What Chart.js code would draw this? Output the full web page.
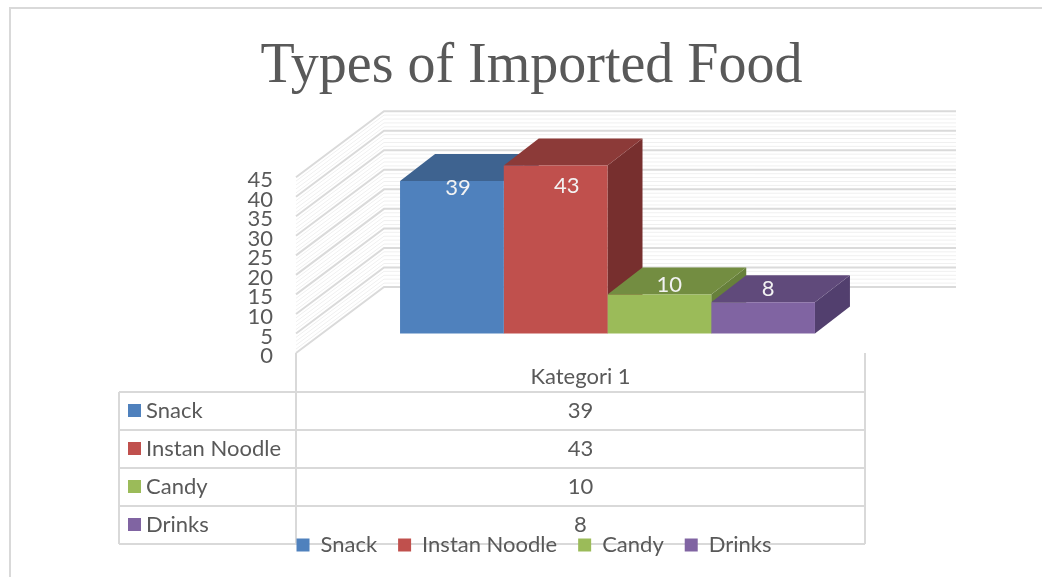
<!DOCTYPE html>
<html>
<head>
<meta charset="utf-8">
<title>Types of Imported Food</title>
<script src="https://cdn.jsdelivr.net/npm/chart.js@4"></script>
<style>
    html, body { margin: 0; padding: 0; background: #ffffff; overflow: hidden; width: 1042px; height: 577px; }
    #frame { position: absolute; left: 9px; top: 7px; width: 1040px; height: 580px; border: 2px solid #d9d9d9; box-sizing: border-box; }
    #importChart { position: absolute; left: 0; top: 0; }
</style>
</head>
<body>
<div id="frame"></div>
<canvas id="importChart" width="1068" height="577"></canvas>
<script>
// Chart data
const categories = ['Kategori 1'];
const seriesNames = ['Snack', 'Instan Noodle', 'Candy', 'Drinks'];
const snackValues = [39];
const noodleValues = [43];
const candyValues = [10];
const drinksValues = [8];

const frontColors = ['#4f81bd', '#c0504d', '#9bbb59', '#8064a2'];
const topColors = ['#3e6390', '#8c3a38', '#738d41', '#604a7b'];
const sideColors = ['#36567d', '#772f2e', '#67803b', '#523f6e'];

const textColor = '#595959';
const lineColor = '#d9d9d9';
const labelFont = '22px Lato';

// 3D look: how far the back wall and the bars recede, in pixels
const wallDepth = { x: 88, y: -66 };
const wallRight = 956;
const barDepth = { x: 35, y: -27 };
// data labels sit a bit off the bar centre, like in the original
const labelShift = [
    { x: 6, y: 7 },
    { x: 11, y: 20 },
    { x: 10, y: -9 },
    { x: 5, y: -13 }
];

// Data table under the plot
const tableLeft = 119;
const tableRight = 865;
const tableRows = [392, 430, 468, 506, 544];

function fillPoly(ctx, color, points) {
    ctx.fillStyle = color;
    ctx.beginPath();
    points.forEach(function(p, i) {
        if (i === 0) ctx.moveTo(p[0], p[1]);
        else ctx.lineTo(p[0], p[1]);
    });
    ctx.closePath();
    ctx.fill();
}

// The title sits slightly left of the canvas centre
const titleShiftPlugin = {
    id: 'titleShift',
    afterLayout: function(chart) {
        chart.titleBlock.left -= 5;
    }
};

// Side wall and back wall, drawn with the y scale
const wallPlugin = {
    id: 'wall',
    beforeDatasetsDraw: function(chart) {
        const ctx = chart.ctx;
        const yScale = chart.scales.y;
        const left = chart.chartArea.left;
        ctx.save();
        for (let v = yScale.max; v >= 0; v--) {
            const y = yScale.getPixelForValue(v);
            const major = v % 5 === 0;
            ctx.strokeStyle = major ? '#dadada' : '#f0f0f0';
            ctx.lineWidth = major ? 2 : 1;
            ctx.beginPath();
            ctx.moveTo(left, y);
            ctx.lineTo(left + wallDepth.x, y + wallDepth.y);
            ctx.lineTo(wallRight, y + wallDepth.y);
            ctx.stroke();
        }
        ctx.restore();
    }
};

// Top and right faces of the bars, the front face is the Chart.js bar
const barFacesPlugin = {
    id: 'barFaces',
    beforeDatasetsDraw: function(chart) {
        const ctx = chart.ctx;
        const dx = barDepth.x;
        const dy = barDepth.y;
        ctx.save();
        chart.data.datasets.forEach(function(ds, i) {
            const bar = chart.getDatasetMeta(i).data[0];
            const l = bar.x - bar.width / 2;
            const r = bar.x + bar.width / 2;
            fillPoly(ctx, sideColors[i], [[r, bar.y], [r + dx, bar.y + dy], [r + dx, bar.base + dy], [r, bar.base]]);
            fillPoly(ctx, topColors[i], [[l, bar.y], [l + dx, bar.y + dy], [r + dx, bar.y + dy], [r, bar.y]]);
        });
        ctx.restore();
    }
};

// White value labels on the bars
const barLabelsPlugin = {
    id: 'barLabels',
    afterDatasetsDraw: function(chart) {
        const ctx = chart.ctx;
        ctx.save();
        ctx.fillStyle = '#f2f2f2';
        ctx.font = labelFont;
        ctx.textAlign = 'center';
        ctx.textBaseline = 'middle';
        chart.data.datasets.forEach(function(ds, i) {
            const bar = chart.getDatasetMeta(i).data[0];
            ctx.fillText(ds.data[0], bar.x + labelShift[i].x, bar.y + labelShift[i].y);
        });
        ctx.restore();
    }
};

// Data table: Chart.js has none, so it goes on the canvas
const dataTablePlugin = {
    id: 'dataTable',
    beforeDraw: function(chart) {
        const ctx = chart.ctx;
        const axisX = chart.chartArea.left;
        const axisBottom = chart.chartArea.bottom;
        const lastRow = tableRows[tableRows.length - 1];
        ctx.save();
        ctx.strokeStyle = lineColor;
        ctx.lineWidth = 2;
        tableRows.forEach(function(y) {
            ctx.beginPath();
            ctx.moveTo(tableLeft, y);
            ctx.lineTo(tableRight, y);
            ctx.stroke();
        });
        [[tableLeft, tableRows[0]], [axisX, axisBottom], [tableRight, axisBottom]].forEach(function(p) {
            ctx.beginPath();
            ctx.moveTo(p[0], p[1]);
            ctx.lineTo(p[0], lastRow);
            ctx.stroke();
        });
        ctx.font = labelFont;
        ctx.textBaseline = 'middle';
        chart.data.datasets.forEach(function(ds, i) {
            const mid = (tableRows[i] + tableRows[i + 1]) / 2;
            ctx.fillStyle = frontColors[i];
            ctx.fillRect(tableLeft + 9, mid - 7, 13, 13);
            ctx.fillStyle = textColor;
            ctx.textAlign = 'left';
            ctx.fillText(ds.label, tableLeft + 27, mid);
            ctx.textAlign = 'center';
            ctx.fillText(ds.data[0], (axisX + tableRight) / 2, mid);
        });
        ctx.restore();
    }
};

function makeDataset(name, values, color) {
    return {
        label: name,
        data: values,
        backgroundColor: color,
        yAxisID: 'yBars',
        barPercentage: 1,
        categoryPercentage: 0.666,
        clip: false
    };
}

new Chart(document.getElementById('importChart').getContext('2d'), {
    type: 'bar',
    data: {
        labels: categories,
        datasets: [
            makeDataset(seriesNames[0], snackValues, frontColors[0]),
            makeDataset(seriesNames[1], noodleValues, frontColors[1]),
            makeDataset(seriesNames[2], candyValues, frontColors[2]),
            makeDataset(seriesNames[3], drinksValues, frontColors[3])
        ]
    },
    options: {
        responsive: false,
        animation: false,
        layout: { padding: { bottom: 11 } },
        plugins: {
            tooltip: { enabled: false },
            title: {
                display: true,
                text: 'Types of Imported Food',
                color: textColor,
                font: { family: 'Liberation Serif', size: 56, weight: 'normal' },
                padding: { top: 34, bottom: 76 }
            },
            legend: {
                position: 'bottom',
                labels: {
                    boxWidth: 13,
                    boxHeight: 13,
                    padding: 21,
                    color: textColor,
                    font: { family: 'Lato', size: 22 }
                }
            }
        },
        scales: {
            x: {
                grid: { display: false },
                border: { display: false },
                ticks: {
                    color: textColor,
                    font: { family: 'Lato', size: 22 },
                    labelOffset: -27,
                    padding: 3,
                    maxRotation: 0
                },
                afterFit: function(scale) { scale.height = 160; }
            },
            // the axis with the tick labels, at the front edge of the side wall
            y: {
                min: 0,
                max: 45,
                grid: { display: false },
                border: { display: false },
                ticks: {
                    stepSize: 5,
                    autoSkip: false,
                    color: textColor,
                    padding: 15,
                    labelOffset: 3,
                    font: { family: 'Lato', size: 22 }
                },
                afterFit: function(scale) { scale.width = 296; }
            },
            // the bars stand further back, so their zero is higher up than the axis zero
            yBars: {
                position: 'right',
                min: -5,
                max: 40,
                grid: { display: false },
                border: { display: false },
                ticks: { display: false },
                afterFit: function(scale) { scale.width = 149; }
            }
        }
    },
    plugins: [titleShiftPlugin, dataTablePlugin, wallPlugin, barFacesPlugin, barLabelsPlugin]
});
</script>
</body>
</html>
